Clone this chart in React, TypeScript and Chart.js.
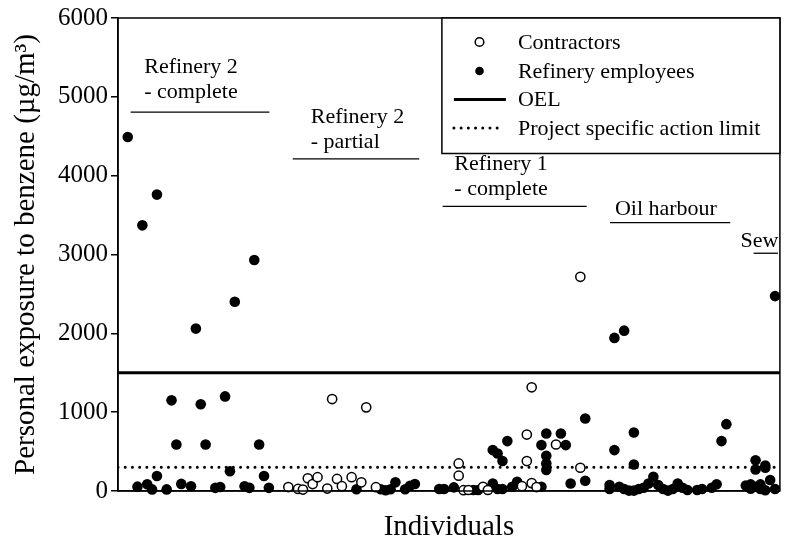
import React, { useEffect, useRef } from 'react';
import { Chart, registerables } from 'chart.js';

Chart.register(...registerables);

// ---- Data (x = individual index, y = exposure µg/m³) ----
const contractorsX = [35, 37, 38, 39, 40, 41, 43, 44, 45, 46, 48, 50, 51, 53,
  70, 70, 71, 72, 75, 76, 83, 84, 84, 85, 85, 86, 90, 95, 95];
const contractorsY = [50, 26, 18, 162, 88, 175, 31, 1166, 153, 61, 175, 110, 1061, 48,
  350, 194, 10, 13, 54, 13, 61, 716, 380, 1315, 100, 50, 590, 2717, 295];

const employeesX = [
  // Refinery 2 - complete
  2, 5, 8, 16, 24, 28, 11, 12, 17, 18, 22, 23, 29, 30, 8,
  4, 6, 7, 10, 13, 15, 20, 21, 26, 27, 31,
  // Refinery 2 - partial
  49, 54, 55, 56, 57, 59, 60, 61,
  // Refinery 1 - complete
  66, 67, 69, 73, 74, 77, 78, 79, 81, 82, 87,
  96, 80, 77, 78, 79, 88, 91, 87, 92, 88, 88, 88, 93, 96,
  // Oil harbour
  101, 101, 102, 102, 103, 104, 104, 105, 106, 106, 106, 107, 108, 109, 110, 111,
  112, 113, 114, 115, 116, 117, 119, 120, 122, 123, 124, 125,
  // Sew
  129, 130, 130, 131, 131, 131, 132, 132, 133, 133, 133, 134, 135, 135,
];
const employeesY = [
  4490, 3370, 3760, 2060, 2400, 2930, 1150, 590, 1100, 590, 1200, 250, 590, 190, 190,
  55, 85, 20, 20, 90, 60, 40, 50, 60, 40, 40,
  22, 22, 9, 22, 110, 22, 66, 88,
  25, 25, 46, 13, 13, 96, 25, 25, 54, 118, 54,
  919, 633, 519, 476, 380, 729, 729, 582, 582, 447, 350, 266, 96, 130,
  76, 25, 1942, 519, 54, 2034, 25, 5, 742, 337, 5, 25, 42, 96, 181, 76,
  25, 5, 25, 96, 42, 13, 13, 25, 42, 85, 633, 848,
  70, 30, 84, 390, 272, 53, 84, 25, 324, 295, 10, 139, 2472, 25,
];

const OEL = 1500;
const ACTION_LIMIT = 300;
const X_MAX = 136;
const yTicks = [0, 1000, 2000, 3000, 4000, 5000, 6000];

const legendLabels = ['Contractors', 'Refinery employees', 'OEL', 'Project specific action limit'];

// Group brackets (data coordinates)
const groupText = [['Refinery 2', '- complete'], ['Refinery 2', '- partial'], ['Refinery 1', '- complete'], ['Oil harbour'], ['Sew']];
const groupFrom = [2.6, 35.9, 66.7, 101.1, 130.6];
const groupTo = [31.1, 61.9, 96.3, 125.8, 135.6];
const groupLineY = [4806, 4212, 3610, 3404, 3016];
const groupLabelX = [5.4, 39.6, 69.1, 102.1, 127.9];
const groupLabelY = [5370, 4740, 4140, 3570, 3165];

const FONT = '"Liberation Serif", "Times New Roman", serif';

const overlayPlugin = {
  id: 'overlay',
  afterDatasetsDraw(chart: any) {
    const { ctx, chartArea: a, scales } = chart;
    const xs = scales.x;
    const ys = scales.y;
    ctx.save();
    // frame
    ctx.strokeStyle = '#000';
    ctx.lineWidth = 1.5;
    ctx.strokeRect(a.left, a.top, a.right - a.left, a.bottom - a.top);

    // group brackets
    ctx.font = `22px ${FONT}`;
    ctx.fillStyle = '#000';
    ctx.textAlign = 'left';
    ctx.textBaseline = 'middle';
    groupText.forEach((lines, i) => {
      ctx.lineWidth = 1.3;
      const ly = ys.getPixelForValue(groupLineY[i]);
      ctx.beginPath();
      ctx.moveTo(xs.getPixelForValue(groupFrom[i]), ly);
      ctx.lineTo(xs.getPixelForValue(groupTo[i]), ly);
      ctx.stroke();
      const tx = xs.getPixelForValue(groupLabelX[i]);
      const ty = ys.getPixelForValue(groupLabelY[i]);
      lines.forEach((t, j) => ctx.fillText(t, tx, ty + j * 25));
    });

    // legend box
    const w = 338;
    const h = 135.5;
    const left = a.right - w;
    const top = a.top;
    ctx.fillStyle = '#fff';
    ctx.fillRect(left, top, w, h);
    ctx.lineWidth = 1.5;
    ctx.strokeStyle = '#000';
    ctx.strokeRect(left, top, w, h);
    const rows = [24, 53, 81.5, 110];
    const ds = chart.data.datasets;
    legendLabels.forEach((label, i) => {
      const cy = top + rows[i];
      const d = ds[i];
      if (i < 2) {
        ctx.beginPath();
        ctx.arc(left + 37.6, cy, 4.3, 0, Math.PI * 2);
        ctx.fillStyle = d.pointBackgroundColor;
        ctx.fill();
        if (d.pointBorderWidth > 0) {
          ctx.lineWidth = d.pointBorderWidth;
          ctx.strokeStyle = d.pointBorderColor;
          ctx.stroke();
        }
      } else {
        ctx.save();
        ctx.beginPath();
        ctx.lineWidth = d.borderWidth;
        ctx.strokeStyle = d.borderColor;
        ctx.lineCap = d.borderCapStyle || 'butt';
        ctx.setLineDash(d.borderDash || []);
        ctx.moveTo(left + 12, cy);
        ctx.lineTo(left + (i === 2 ? 64 : 62), cy);
        ctx.stroke();
        ctx.restore();
      }
      ctx.fillStyle = '#000';
      ctx.font = `22px ${FONT}`;
      ctx.textAlign = 'left';
      ctx.textBaseline = 'middle';
      ctx.fillText(label, left + 76, cy + 1);
    });
    ctx.restore();
  },
};

export default function App() {
  const ref = useRef<HTMLCanvasElement | null>(null);

  useEffect(() => {
    if (!ref.current) return;
    const chart = new Chart(ref.current, {
      type: 'scatter',
      data: {
        datasets: [
          {
            label: legendLabels[0],
            data: contractorsX.map((x, i) => ({ x, y: contractorsY[i] })),
            pointRadius: 4.6,
            pointBackgroundColor: '#fff',
            pointBorderColor: '#000',
            pointBorderWidth: 1.5,
            clip: false,
          },
          {
            label: legendLabels[1],
            data: employeesX.map((x, i) => ({ x, y: employeesY[i] })),
            pointRadius: 5.3,
            pointBackgroundColor: '#000',
            pointBorderColor: '#000',
            pointBorderWidth: 0,
            clip: false,
          },
          {
            label: legendLabels[2],
            data: [{ x: 0, y: OEL }, { x: X_MAX, y: OEL }],
            showLine: true,
            pointRadius: 0,
            borderColor: '#000',
            borderWidth: 3,
          },
          {
            label: legendLabels[3],
            data: [{ x: 0, y: ACTION_LIMIT }, { x: X_MAX, y: ACTION_LIMIT }],
            showLine: true,
            pointRadius: 0,
            borderColor: '#000',
            borderWidth: 3,
            borderDash: [0.01, 7.2],
            borderCapStyle: 'round',
          },
        ] as any,
      },
      options: {
        animation: false,
        responsive: false,
        devicePixelRatio: 1,
        layout: { padding: { top: 16, right: 5, left: 0, bottom: 0 } },
        plugins: { legend: { display: false }, tooltip: { enabled: false } },
        scales: {
          x: {
            type: 'linear',
            min: 0,
            max: X_MAX,
            ticks: { display: false },
            grid: { display: false, drawTicks: false },
            border: { display: true, color: '#000', width: 1.5 },
            title: {
              display: true,
              text: 'Individuals',
              color: '#000',
              font: { family: FONT, size: 29 },
              padding: { top: 0, bottom: 1 },
            },
            afterFit: (s: any) => { s.height = 55; },
          },
          y: {
            type: 'linear',
            min: 0,
            max: 6000,
            afterBuildTicks: (s: any) => { s.ticks = yTicks.map((v) => ({ value: v })); },
            ticks: {
              color: '#000',
              font: { family: FONT, size: 25 },
              padding: 3,
              callback: (v: any) => String(v),
            },
            grid: { drawOnChartArea: false, drawTicks: true, tickLength: 7, color: '#000', lineWidth: 1.5 },
            border: { display: true, color: '#000', width: 1.5 },
            title: {
              display: true,
              text: 'Personal exposure to benzene (µg/m³)',
              color: '#000',
              font: { family: FONT, size: 29 },
              padding: { top: 9, bottom: 0 },
            },
            afterFit: (s: any) => { s.width = 118; },
          },
        },
      } as any,
      plugins: [overlayPlugin],
    });
    return () => chart.destroy();
  }, []);

  return (
    <div style={{ position: 'fixed', left: 0, top: 0, width: 786, height: 546, background: '#fff' }}>
      <canvas ref={ref} width={786} height={546} style={{ display: 'block', width: 786, height: 546 }} />
    </div>
  );
}
